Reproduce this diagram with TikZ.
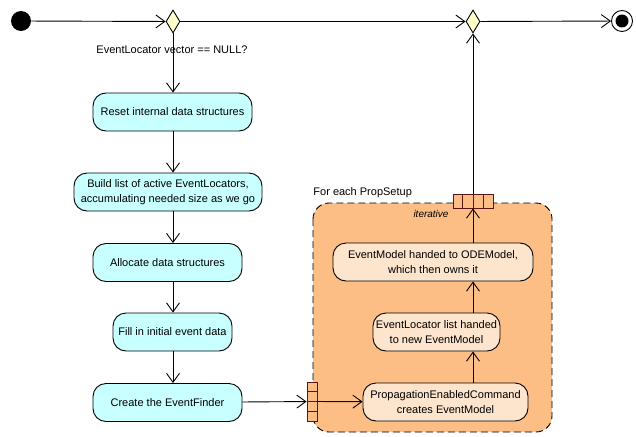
\documentclass[tikz,border=0pt]{standalone}
\usepackage{fontspec}
\setmainfont{Liberation Sans}
\usetikzlibrary{arrows.meta,shapes.geometric,calc}
\definecolor{actfill}{RGB}{200,255,255}
\definecolor{regfill}{RGB}{253,190,133}
\definecolor{inact}{RGB}{253,228,204}
\definecolor{decfill}{RGB}{255,255,200}
\definecolor{expcol}{RGB}{90,20,20}
\begin{document}
\begin{tikzpicture}[x=1pt,y=-1pt,
  font=\fontsize{11}{15}\selectfont,
  line width=0.9pt,
  arr/.style={-{Straight Barb[length=9pt,width=13pt]}},
  act/.style={draw, fill=actfill, rounded corners=13pt, minimum height=38pt, align=center, inner sep=2pt},
  inn/.style={draw, fill=inact, rounded corners=13pt, minimum height=38pt, align=center, inner sep=2pt},
  dec/.style={diamond, draw, fill=decfill, minimum width=14pt, minimum height=23pt, inner sep=0pt},
  expn/.style={draw=expcol, fill=regfill, inner sep=0pt},
  region/.style={draw, fill=regfill, dash pattern=on 7pt off 4pt, rounded corners=16pt}]
\useasboundingbox (0,0) rectangle (636,436);

% region
\draw[region] (313,203) rectangle (552,432);
\node[anchor=west, inner sep=0pt] (lbl) at (313,193) {For each PropSetup};
\node[font=\itshape\fontsize{10}{12}\selectfont, inner sep=0pt] (it) at (431,214) {iterative};

% initial / final / decisions
\node[circle, fill=black, minimum size=20pt, inner sep=0pt] (start) at (21,21) {};
\node[dec] (d1) at (173,21.5) {};
\node[dec] (d2) at (473,21.5) {};
\node[circle, draw, fill=white, minimum size=21pt, inner sep=0pt] (end) at (622,21) {};
\node[circle, fill=black, minimum size=13pt, inner sep=0pt] (endin) at (end) {};
\node[inner sep=1pt] (q) at (172,50) {EventLocator vector == NULL?};

% left column
\node[act, minimum width=159pt] (reset) at (172.5,112) {Reset internal data structures};
\node[act, minimum width=188pt] (build) at (168,192) {Build list of active EventLocators,\\accumulating needed size as we go};
\node[act, minimum width=149pt] (alloc) at (167.5,262.5) {Allocate data structures};
\node[act, minimum width=119pt] (fill) at (172.5,332) {Fill in initial event data};
\node[act, minimum width=149pt] (create) at (167.5,402.5) {Create the EventFinder};

% inner nodes
\node[inn, minimum width=200pt] (em) at (433,262) {EventModel handed to ODEModel,\\which then owns it};
\node[inn, minimum width=127pt] (ell) at (436.5,332) {EventLocator list handed\\to new EventModel};
\node[inn, minimum width=165pt] (prop) at (445.5,402) {PropagationEnabledCommand\\creates EventModel};

% expansion nodes
\node[expn, minimum width=40pt, minimum height=14pt] (exptop) at (473,201) {};
\foreach \f in {0.25,0.5,0.75}
  \draw[expcol] ($(exptop.north west)!\f!(exptop.north east)$) -- ($(exptop.south west)!\f!(exptop.south east)$);
\node[expn, minimum width=10pt, minimum height=39pt] (expl) at (312,401.5) {};
\foreach \f in {0.25,0.5,0.75}
  \draw[expcol] ($(expl.north west)!\f!(expl.south west)$) -- ($(expl.north east)!\f!(expl.south east)$);

% connectors
\draw[arr] (start) -- (d1);
\draw[arr] (d1) -- (d2);
\draw[arr] (d2) -- (end);
\draw[arr] (d1) -- (reset.north -| d1);
\draw[arr] (reset.south -| d1) -- (build.north -| d1);
\draw[arr] (build.south -| d1) -- (alloc.north -| d1);
\draw[arr] (alloc.south -| d1) -- (fill.north -| d1);
\draw[arr] (fill.south -| d1) -- (create.north -| d1);
\draw[arr] (create) -- (expl);
\draw[arr] (expl) -- (prop);
\draw[arr] (prop.north -| exptop) -- (ell.south -| exptop);
\draw[arr] (ell.north -| exptop) -- (em.south -| exptop);
\draw[arr] (em.north -| exptop) -- (exptop);
\draw[arr] (exptop) -- (d2);
\end{tikzpicture}
\end{document}
